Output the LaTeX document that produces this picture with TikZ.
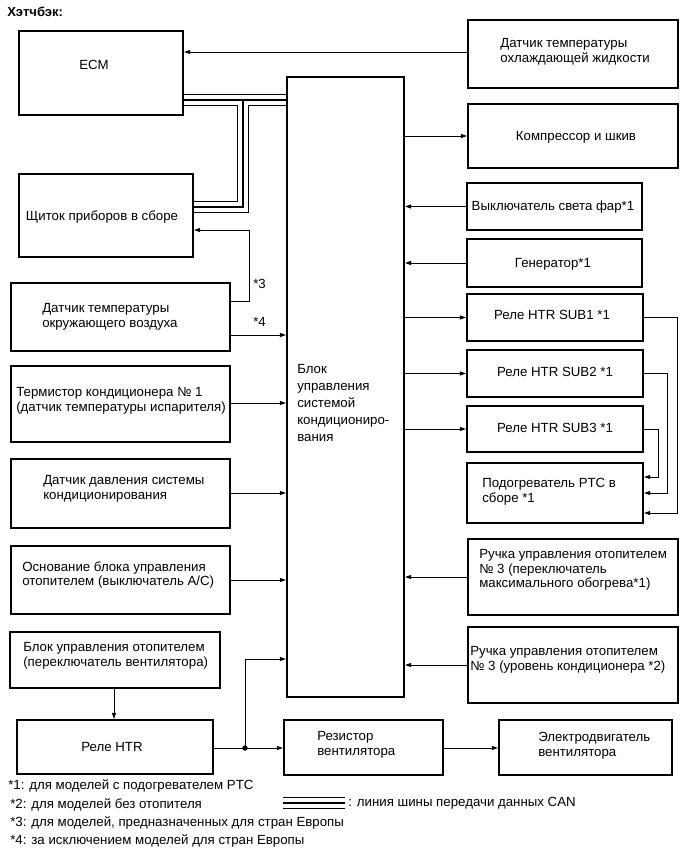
\documentclass[tikz,border=0pt]{standalone}
\usepackage{fontspec}
\setmainfont{Liberation Sans}
\usetikzlibrary{arrows.meta,fit}
\begin{document}
\begin{tikzpicture}[x=0.75pt,y=-0.75pt,
  box/.style={draw,line width=1.6pt,inner sep=0pt},
  lbl/.style={inner sep=0pt,font=\fontsize{9.95}{11}\selectfont,align=left},
  con/.style={line width=0.7pt},
  arr/.style={con,-{Triangle[length=4.5pt,width=3pt]}},
  canA/.style={line width=9.4pt,line join=miter},
  canB/.style={line width=7.3pt,white,line join=miter},
  canC/.style={line width=0.8pt,line join=miter},
]
\useasboundingbox (0,0) rectangle (690,855);

% boxes
\node[box,fit={(19,31)(183,115)}] (ecm) {};
\node[box,fit={(468,20)(678,88)}] (cool) {};
\node[box,fit={(287,77)(404,697)}] (main) {};
\node[box,fit={(468,104)(678,168)}] (comp) {};
\node[box,fit={(19,174)(193,257)}] (clus) {};
\node[box,fit={(467,183)(642,230)}] (head) {};
\node[box,fit={(467,239)(642,287)}] (gen) {};
\node[box,fit={(11,283)(230,351)}] (amb) {};
\node[box,fit={(467,294)(643,341)}] (sub1) {};
\node[box,fit={(11,366)(230,442)}] (therm) {};
\node[box,fit={(467,350)(643,397)}] (sub2) {};
\node[box,fit={(467,406)(643,452)}] (sub3) {};
\node[box,fit={(11,459)(230,528)}] (pres) {};
\node[box,fit={(467,463)(643,523)}] (ptc) {};
\node[box,fit={(11,546)(230,614)}] (base) {};
\node[box,fit={(468,539)(678,615)}] (hmax) {};
\node[box,fit={(10,632)(220,688)}] (fan) {};
\node[box,fit={(468,627)(678,703)}] (hac) {};
\node[box,fit={(17,720)(213,774)}] (relay) {};
\node[box,fit={(284,720)(443,775)}] (res) {};
\node[box,fit={(499,720)(672,775)}] (motor) {};

% texts
\node[lbl,anchor=west,font=\fontsize{9.8}{11}\selectfont\bfseries] (title) at (7,12) {Хэтчбэк:};
\node[lbl] (tecm) at (94,65) {ECM};
\node[lbl,anchor=west] (tcool) at (500,52) {Датчик температуры\\ охлаждающей жидкости};
\node[lbl,anchor=west] (tmain) at (297,403) {Блок\\[1.6pt] управления\\[1.6pt] системой\\[1.6pt] кондициониро-\\[1.6pt] вания};
\node[lbl] (tcomp) at (576,137) {Компрессор и шкив};
\node[lbl] (tclus) at (102,217) {Щиток приборов в сборе};
\node[lbl] (thead) at (553,207) {Выключатель света фар*1};
\node[lbl] (tgen) at (553,264) {Генератор*1};
\node[lbl,anchor=west] (tamb) at (42,317) {Датчик температуры\\окружающего воздуха};
\node[lbl] (tsub1) at (552,315) {Реле HTR SUB1 *1};
\node[lbl,anchor=west] (ttherm) at (16,401) {Термистор кондиционера № 1\\(датчик температуры испарителя)};
\node[lbl] (tsub2) at (555,372) {Реле HTR SUB2 *1};
\node[lbl] (tsub3) at (555,428) {Реле HTR SUB3 *1};
\node[lbl,anchor=west] (tpres) at (43,489) {Датчик давления системы\\кондиционирования};
\node[lbl,anchor=west] (tptc) at (482,492) {Подогреватель PTC в\\сборе *1};
\node[lbl,anchor=west] (tbase) at (22,575) {Основание блока управления\\отопителем (выключатель A/C)};
\node[lbl,anchor=west] (thmax) at (479,570) {Ручка управления отопителем\\№ 3 (переключатель\\максимального обогрева*1)};
\node[lbl,anchor=west] (tfan) at (23,656) {Блок управления отопителем\\(переключатель вентилятора)};
\node[lbl,anchor=west] (thac) at (470,660) {Ручка управления отопителем\\№ 3 (уровень кондиционера *2)};
\node[lbl] (trelay) at (112,747) {Реле HTR};
\node[lbl,anchor=west] (tres) at (317,745) {Резистор\\вентилятора};
\node[lbl,anchor=west] (tmotor) at (538,746) {Электродвигатель\\вентилятора};
\node[lbl,anchor=west] (n3) at (253,284) {*3};
\node[lbl,anchor=west] (n4) at (253,322) {*4};

% legend
\node[lbl,anchor=west] (l1) at (8,786) {*1: для моделей с подогревателем PTC};
\node[lbl,anchor=west] (l2) at (10,805) {*2: для моделей без отопителя};
\node[lbl,anchor=west] (l3) at (10,823) {*3: для моделей, предназначенных для стран Европы};
\node[lbl,anchor=west] (l4) at (10,841) {*4: за исключением моделей для стран Европы};
\node[lbl,anchor=west] (lcan) at (348,803) {: линия шины передачи данных CAN};
\coordinate (canl1) at (283,803);
\coordinate (canl2) at (345,803);

% CAN bus
\coordinate (canj) at (243,100);
\foreach \s in {canA,canB,canC}{
  \draw[\s] (ecm.east |- canj) -- (main.west |- canj);
  \draw[\s] (canj) -- (243,207) -- (clus.east |- 0,207);
  \draw[\s] (canl1) -- (canl2);
}

% connectors
\draw[arr] (cool.west |- 0,52) -- (ecm.east |- 0,52);
\draw[arr] (main.east |- comp.west) -- (comp.west);
\draw[arr] (head.west) -- (main.east |- head.west);
\draw[arr] (gen.west) -- (main.east |- gen.west);
\draw[arr] (main.east |- sub1.west) -- (sub1.west);
\draw[arr] (main.east |- sub2.west) -- (sub2.west);
\draw[arr] (main.east |- sub3.west) -- (sub3.west);
\draw[arr] (sub1.east) -- (677,317.5) -- (677,513) -- (ptc.east |- 0,513);
\draw[arr] (sub2.east) -- (667,373.5) -- (667,493) -- (ptc.east |- 0,493);
\draw[arr] (sub3.east) -- (658,429) -- (658,477) -- (ptc.east |- 0,477);
\draw[arr] (hmax.west |- 0,577) -- (main.east |- 0,577);
\draw[arr] (hac.west |- 0,665) -- (main.east |- 0,665);

\draw[arr] (amb.east |- 0,301) -- (249,301) -- (249,230) -- (clus.east |- 0,230);
\draw[arr] (amb.east |- 0,335) -- (main.west |- 0,335);
\draw[arr] (therm.east |- 0,403) -- (main.west |- 0,403);
\draw[arr] (pres.east |- 0,493) -- (main.west |- 0,493);
\draw[arr] (base.east |- 0,580) -- (main.west |- 0,580);

\draw[arr] (fan.south -| 114,0) -- (relay.north -| 114,0);
\coordinate (dot) at (245,748);
\draw[arr] (relay.east |- dot) -- (res.west |- dot);
\draw[arr] (dot) -- (245,659) -- (main.west |- 0,659);
\fill (dot) circle (2.7);
\draw[arr] (res.east |- dot) -- (motor.west |- dot);
\end{tikzpicture}
\end{document}
